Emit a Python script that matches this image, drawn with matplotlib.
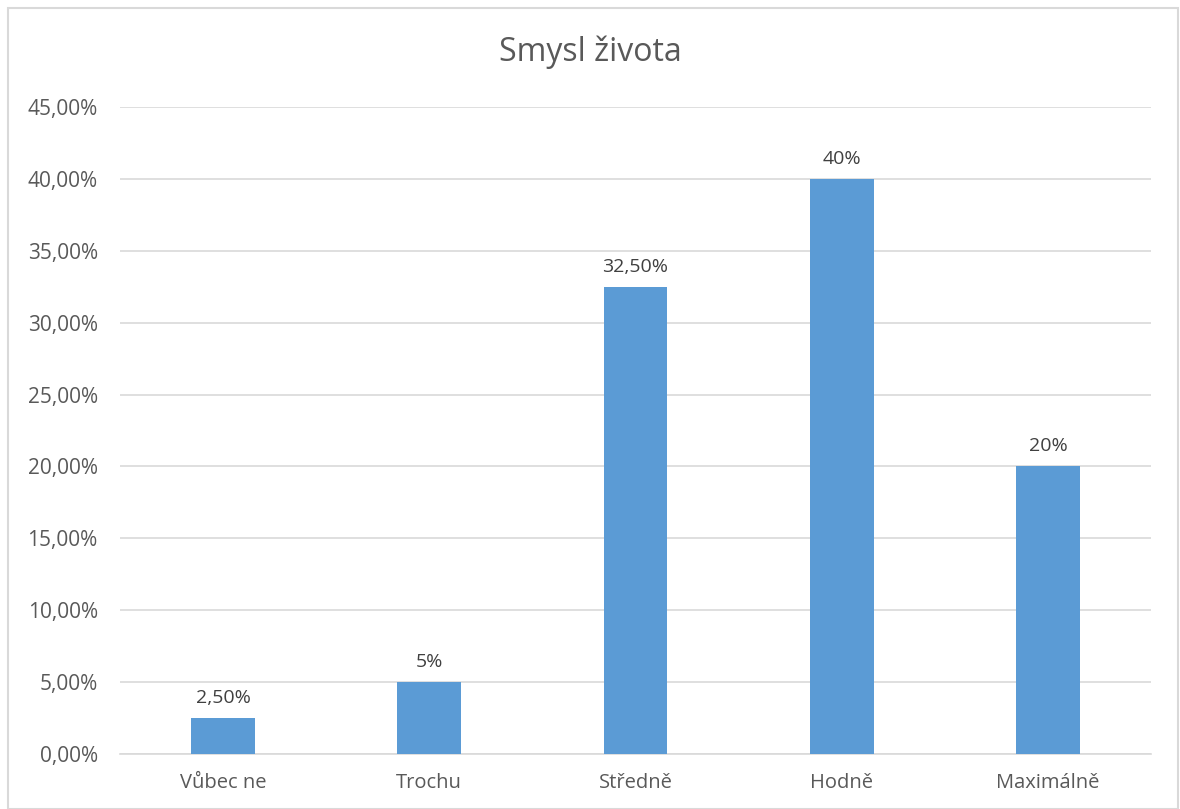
import matplotlib.pyplot as plt
from matplotlib.patches import Rectangle
from matplotlib.ticker import FuncFormatter

plt.rcParams['font.family'] = ['Open Sans', 'DejaVu Sans']

# data
categories = ['Vůbec ne', 'Trochu', 'Středně', 'Hodně', 'Maximálně']
values = [2.5, 5, 32.5, 40, 20]
value_labels = ['2,50%', '5%', '32,50%', '40%', '20%']

fig = plt.figure(figsize=(11.8, 8.09), dpi=100)
ax = fig.add_axes([120 / 1180, 55 / 809, 1031 / 1180, 647 / 809])

x = list(range(len(categories)))
ax.bar(x, values, width=0.31, color='#5B9BD5', zorder=3)

for xi, v, lab in zip(x, values, value_labels):
    ax.annotate(lab, (xi, v), xytext=(0, 8), textcoords='offset points',
                ha='center', va='bottom', fontsize=14, color='#404040')

ax.set_xlim(-0.5, len(categories) - 0.5)
ax.set_ylim(0, 45)
ax.set_yticks(range(0, 50, 5))
ax.yaxis.set_major_formatter(FuncFormatter(lambda v, p: f'{v:.2f}'.replace('.', ',') + '%'))
ax.set_xticks(x)
ax.set_xticklabels(categories)

ax.grid(axis='y', color='#D9D9D9', linewidth=1.2, zorder=0)
for s in ['top', 'right', 'left']:
    ax.spines[s].set_visible(False)
ax.spines['bottom'].set_color('#D9D9D9')
ax.spines['bottom'].set_linewidth(1.2)
ax.tick_params(axis='both', length=0, colors='#595959')
ax.tick_params(axis='y', pad=16, labelsize=15)
ax.tick_params(axis='x', pad=14, labelsize=14.5)

fig.text(0.5, 1 - 52 / 809, 'Smysl života', ha='center', va='center',
         fontsize=23, color='#595959')

# outer chart border
fig.patches.append(Rectangle((8 / 1180, 0), 1170 / 1180, 801 / 809, transform=fig.transFigure,
                             fill=False, edgecolor='#D9D9D9', linewidth=1.5))

fig.savefig('out.png', dpi=100)
